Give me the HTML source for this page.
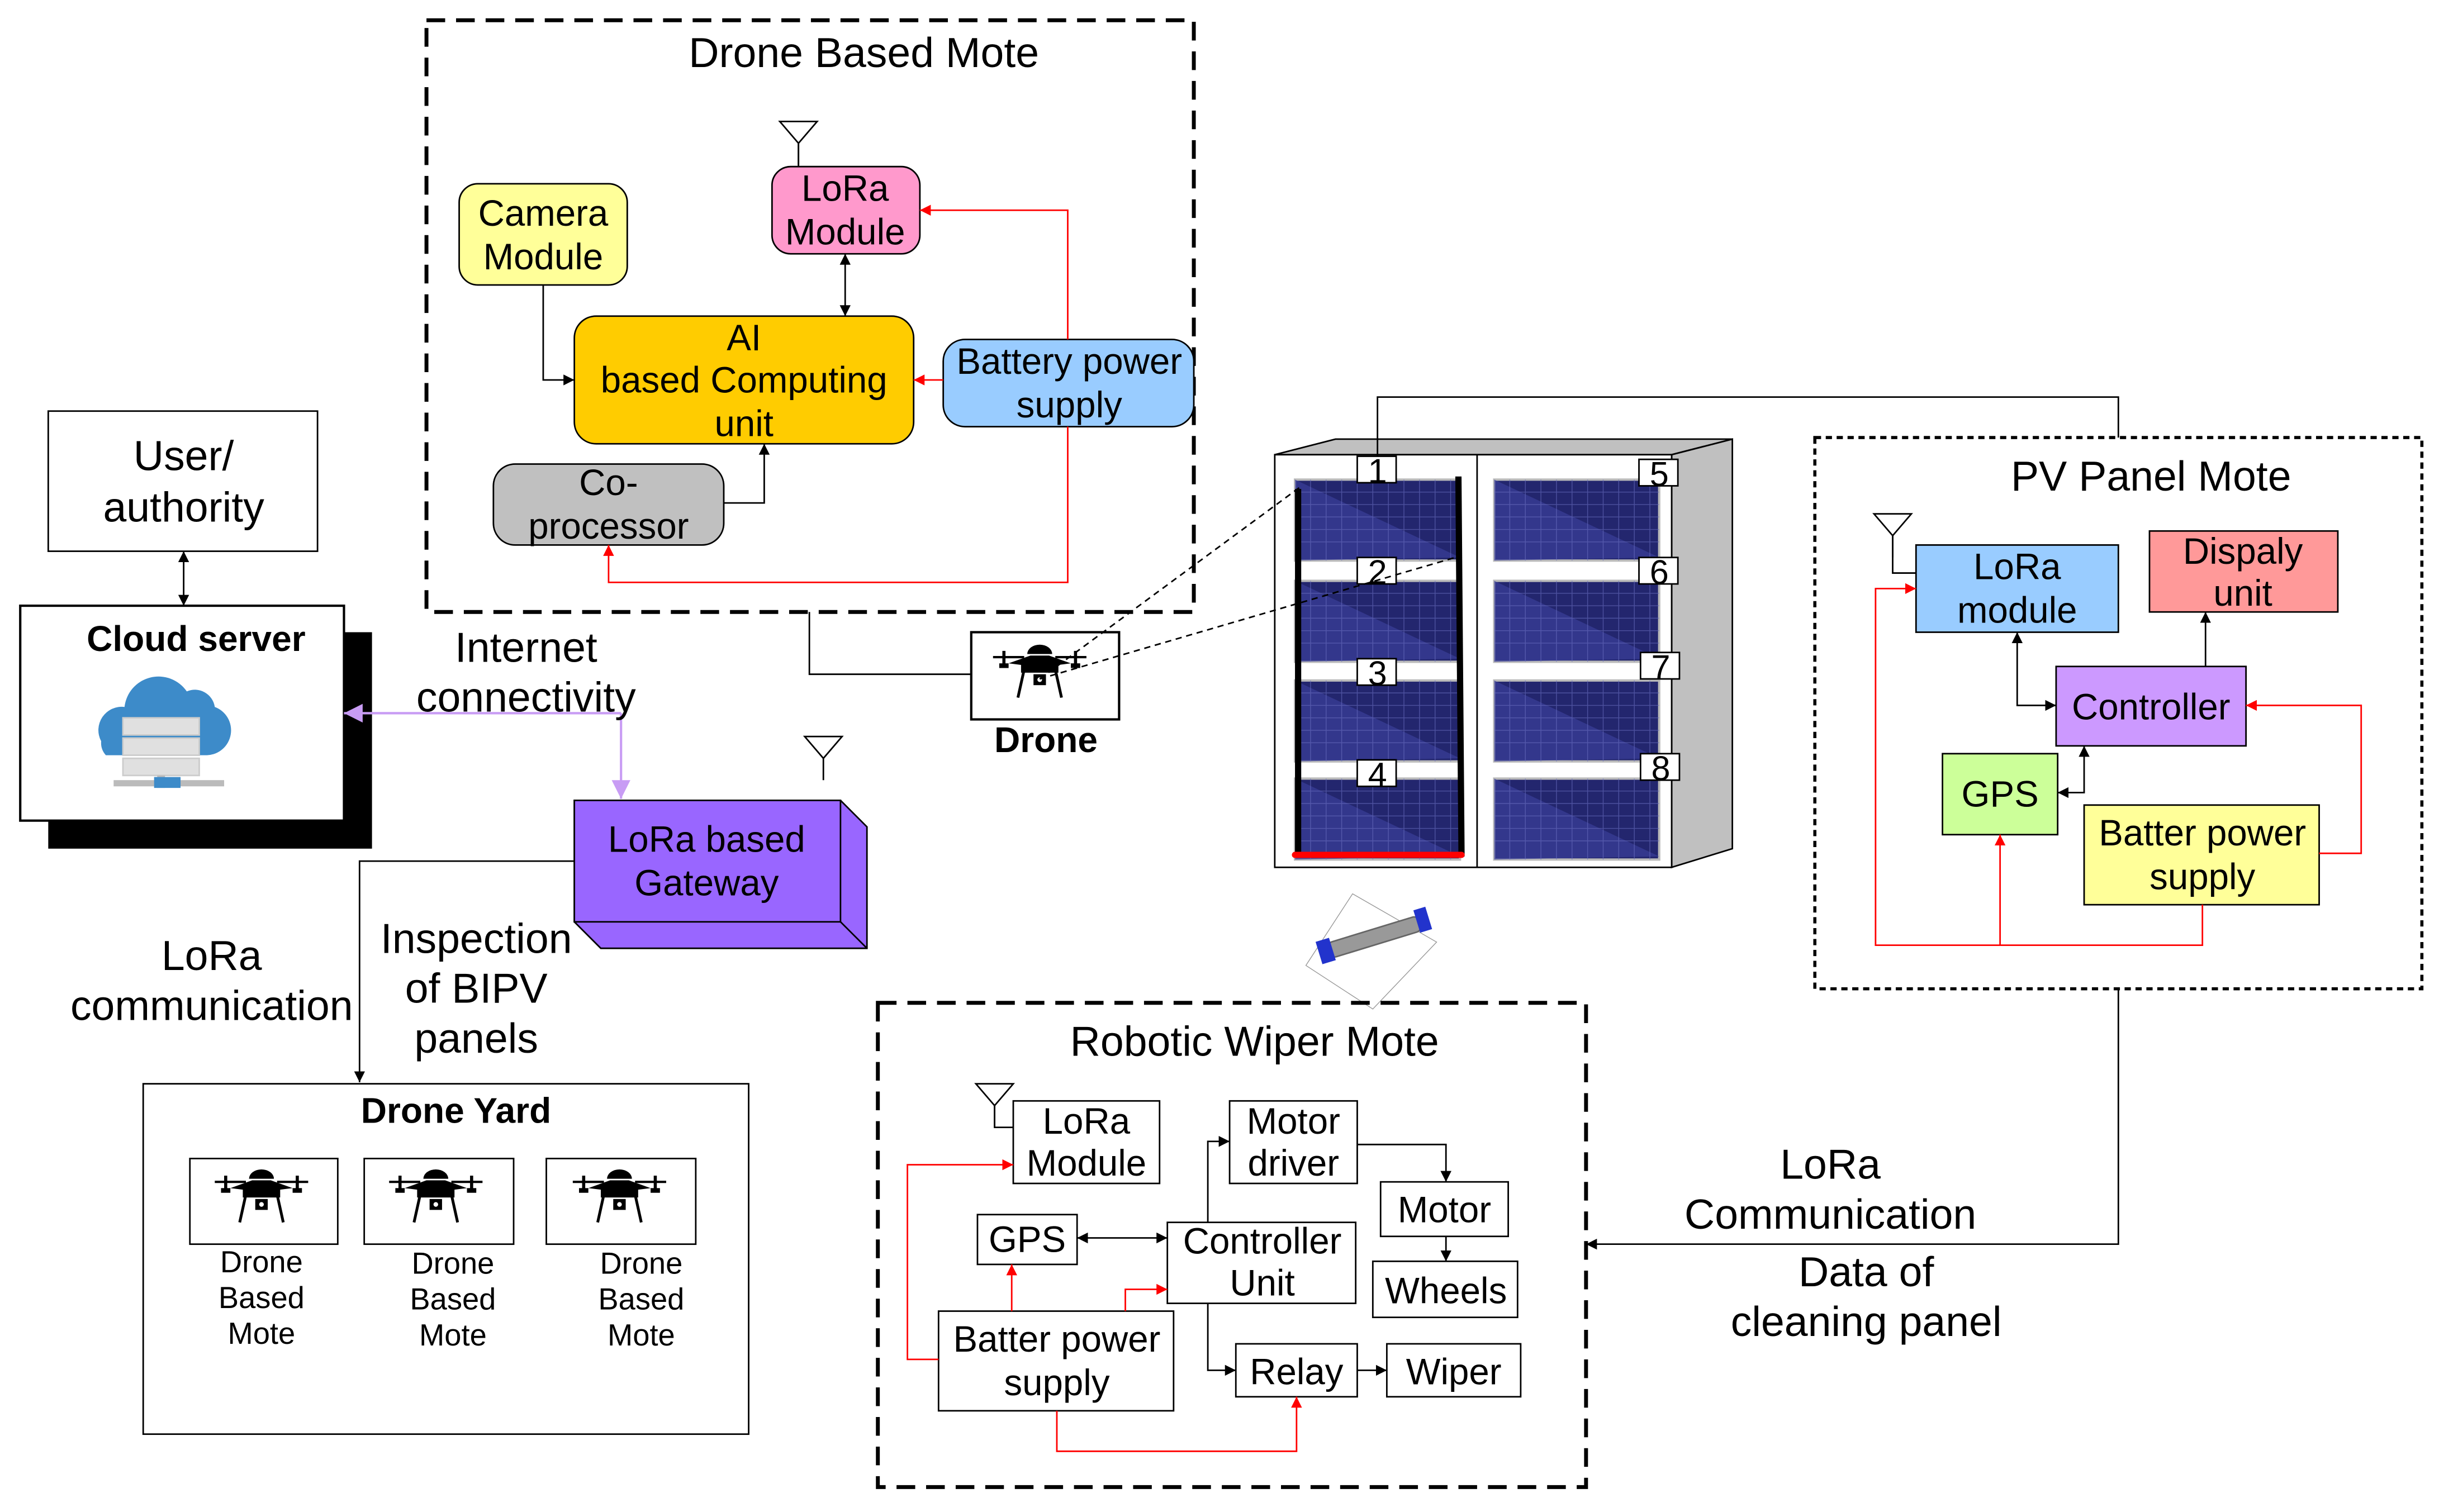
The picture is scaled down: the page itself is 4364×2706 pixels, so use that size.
<!DOCTYPE html>
<html><head><meta charset="utf-8"><style>html,body{margin:0;padding:0;background:#fff}svg{display:block}</style></head><body>
<svg width="4364" height="2706" viewBox="0 0 1567 971" preserveAspectRatio="none" xmlns="http://www.w3.org/2000/svg" font-family="Liberation Sans, Arial, sans-serif">
<defs>
<marker id="ab" viewBox="0 0 10 10" refX="10" refY="5" markerWidth="7" markerHeight="7" orient="auto-start-reverse"><path d="M0,0L10,5L0,10z" fill="#000"/></marker>
<marker id="ar" viewBox="0 0 10 10" refX="10" refY="5" markerWidth="7" markerHeight="7" orient="auto-start-reverse"><path d="M0,0L10,5L0,10z" fill="#f00"/></marker>
<marker id="ap" viewBox="0 0 10 10" refX="10" refY="5" markerWidth="8" markerHeight="8" orient="auto-start-reverse"><path d="M0,0L10,5L0,10z" fill="#c89cf4"/></marker>
<g id="drone">
<path d="M-30,-8 H-10 M10,-8 H30" stroke="#000" stroke-width="1.5"/>
<rect x="-24" y="-12" width="2" height="10" fill="#000"/><rect x="22" y="-12" width="2" height="10" fill="#000"/>
<rect x="-26" y="-4" width="6" height="3" fill="#000"/><rect x="20" y="-4" width="6" height="3" fill="#000"/>
<path d="M-8,-10 A8,6 0 0 1 8,-10 Z" fill="#000"/>
<path d="M-20,-4 L-6,-9 H6 L20,-4 L12,-3 V2 H-12 V-3Z" fill="#000"/>
<path d="M-10,0 L-14,18 M10,0 L14,18" stroke="#000" stroke-width="1.8"/>
<rect x="-4" y="3" width="8" height="7" fill="#000"/><circle cx="0" cy="6.5" r="1.5" fill="#fff"/>
</g>
<g id="ant"><path d="M-12,0 L12,0 L0,14 Z M0,14 V28" fill="none" stroke="#000" stroke-width="1"/></g>
<g id="panel">
<rect x="0" y="0" width="106" height="52" fill="#23266e" stroke="#bbb" stroke-width="1.5"/>
<path d="M0,0 L106,50 L0,52Z" fill="#3a3f99" opacity="0.7"/>
<path d="M10,0V52M20,0V52M30,0V52M40,0V52M50,0V52M60,0V52M70,0V52M80,0V52M90,0V52M100,0V52M0,8H106M0,16H106M0,24H106M0,32H106M0,40H106" stroke="#6a6fc0" stroke-width="0.5" opacity="0.6"/>
</g>
</defs>
<rect width="1567" height="971" fill="#fff"/>
<rect x="274" y="13" width="493" height="380" fill="none" stroke="#000" stroke-width="2.5" stroke-dasharray="12,7"/>
<text x="555" y="43" font-size="27" text-anchor="middle">Drone Based Mote</text>
<use href="#ant" x="513" y="78"/>
<line x1="513" y1="92" x2="513" y2="107" stroke="#000"/>
<rect x="496" y="107" width="95" height="56" rx="12" fill="#ff99cc" stroke="#000"/>
<text font-size="23.5" text-anchor="middle"><tspan x="543" y="129">LoRa</tspan><tspan x="543" y="157">Module</tspan></text>
<rect x="295" y="118" width="108" height="65" rx="12" fill="#ffff99" stroke="#000"/>
<text font-size="23.5" text-anchor="middle"><tspan x="349" y="145">Camera</tspan><tspan x="349" y="173">Module</tspan></text>
<rect x="369" y="203" width="218" height="82" rx="14" fill="#ffcc00" stroke="#000"/>
<text font-size="23.5" text-anchor="middle"><tspan x="478" y="225">AI</tspan><tspan x="478" y="252">based Computing</tspan><tspan x="478" y="280">unit</tspan></text>
<rect x="606" y="218" width="161" height="56" rx="14" fill="#99ccff" stroke="#000"/>
<text font-size="23.5" text-anchor="middle"><tspan x="687" y="240">Battery power</tspan><tspan x="687" y="268">supply</tspan></text>
<rect x="317" y="298" width="148" height="52" rx="14" fill="#c0c0c0" stroke="#000"/>
<text font-size="23.5" text-anchor="middle"><tspan x="391" y="318">Co-</tspan><tspan x="391" y="346">processor</tspan></text>
<g fill="none" stroke="#000" stroke-width="1">
<path d="M349,183 V244 H369" marker-end="url(#ab)"/>
<path d="M543,163 V203" marker-start="url(#ab)" marker-end="url(#ab)"/>
<path d="M465,323 H491 V285" marker-end="url(#ab)"/>
<path d="M520,393 V433 H624"/>
</g>
<g fill="none" stroke="#f00" stroke-width="1">
<path d="M606,244 H587" marker-end="url(#ar)"/>
<path d="M686,218 V135 H591" marker-end="url(#ar)"/>
<path d="M686,274 V374 H391 V350" marker-end="url(#ar)"/>
</g>
<rect x="624" y="406" width="95" height="56" fill="#fff" stroke="#000" stroke-width="1.5"/>
<use href="#drone" x="668" y="430"/>
<text x="672" y="483" font-size="23" font-weight="bold" text-anchor="middle">Drone</text>
<rect x="31" y="264" width="173" height="90" fill="#fff" stroke="#000"/>
<text font-size="27" text-anchor="middle"><tspan x="118" y="302">User/</tspan><tspan x="118" y="335">authority</tspan></text>
<path d="M118,354 V389" stroke="#000" marker-start="url(#ab)" marker-end="url(#ab)"/>
<rect x="31" y="406" width="208" height="139" fill="#000"/>
<rect x="13" y="389" width="208" height="138" fill="#fff" stroke="#000" stroke-width="1.5"/>
<text x="126" y="418" font-size="23" font-weight="bold" text-anchor="middle">Cloud server</text>
<g>
<path d="M85,478 a15,15 0 0 1 15,-22 a22,22 0 0 1 40,-10 a13,13 0 0 1 18,10 a16,16 0 0 1 -5,31 H88 a12,12 0 0 1 -3,-9z" fill="#3d8bc9" transform="translate(-20,-2)"/>
<rect x="79" y="461" width="49" height="11" fill="#e0e0e0" stroke="#ccc"/>
<rect x="79" y="474" width="49" height="11" fill="#e0e0e0" stroke="#ccc"/>
<rect x="79" y="487" width="49" height="11" fill="#e0e0e0" stroke="#ccc"/>
<rect x="101" y="498" width="5" height="8" fill="#bbb"/>
<rect x="73" y="501" width="71" height="4" fill="#bbb"/>
<rect x="99" y="499" width="17" height="7" fill="#3d8bc9"/>
</g>
<g fill="none" stroke="#c89cf4" stroke-width="1.5">
<path d="M399,458 H221" marker-end="url(#ap)"/>
<path d="M399,458 V513" marker-end="url(#ap)"/>
</g>
<text font-size="27" text-anchor="middle"><tspan x="338" y="425">Internet</tspan><tspan x="338" y="457">connectivity</tspan></text>
<use href="#ant" x="529" y="473"/>
<polygon points="369,514 540,514 557,531 557,609 386,609 369,592" fill="#9966ff" stroke="#000"/>
<path d="M540,592 L557,609" stroke="#000" fill="none"/>
<rect x="369" y="514" width="171" height="78" fill="#9966ff" stroke="#000"/>
<text font-size="23.5" text-anchor="middle"><tspan x="454" y="547">LoRa based</tspan><tspan x="454" y="575">Gateway</tspan></text>
<path d="M369,553 H231 V695" fill="none" stroke="#000" marker-end="url(#ab)"/>
<text font-size="27" text-anchor="middle"><tspan x="136" y="623">LoRa</tspan><tspan x="136" y="655">communication</tspan></text>
<text font-size="27" text-anchor="middle"><tspan x="306" y="612">Inspection</tspan><tspan x="306" y="644">of BIPV</tspan><tspan x="306" y="676">panels</tspan></text>
<rect x="92" y="696" width="389" height="225" fill="#fff" stroke="#000"/>
<text x="293" y="721" font-size="23" font-weight="bold" text-anchor="middle">Drone Yard</text>
<rect x="122" y="744" width="95" height="55" fill="#fff" stroke="#000"/><use href="#drone" x="168" y="767"/>
<rect x="234" y="744" width="96" height="55" fill="#fff" stroke="#000"/><use href="#drone" x="280" y="767"/>
<rect x="351" y="744" width="96" height="55" fill="#fff" stroke="#000"/><use href="#drone" x="398" y="767"/>
<g font-size="19.5" text-anchor="middle">
<text><tspan x="168" y="817">Drone</tspan><tspan x="168" y="840">Based</tspan><tspan x="168" y="863">Mote</tspan></text>
<text><tspan x="291" y="818">Drone</tspan><tspan x="291" y="841">Based</tspan><tspan x="291" y="864">Mote</tspan></text>
<text><tspan x="412" y="818">Drone</tspan><tspan x="412" y="841">Based</tspan><tspan x="412" y="864">Mote</tspan></text>
</g>
<polygon points="819,292 858,282 1113,282 1074,292" fill="#c0c0c0" stroke="#000"/>
<polygon points="1074,292 1113,282 1113,545 1074,557" fill="#c0c0c0" stroke="#000"/>
<rect x="819" y="292" width="255" height="265" fill="#fff" stroke="#000"/>
<line x1="949" y1="292" x2="949" y2="557" stroke="#000"/>
<use href="#panel" x="832" y="308"/><use href="#panel" x="832" y="373"/><use href="#panel" x="832" y="437"/><use href="#panel" x="832" y="500"/>
<use href="#panel" x="960" y="308"/><use href="#panel" x="960" y="373"/><use href="#panel" x="960" y="437"/><use href="#panel" x="960" y="500"/>
<line x1="834" y1="314" x2="834" y2="550" stroke="#000" stroke-width="4"/>
<line x1="937" y1="306" x2="939" y2="550" stroke="#000" stroke-width="4"/>
<line x1="832" y1="549" x2="939" y2="549" stroke="#f00" stroke-width="4" stroke-linecap="round"/>
<g font-size="22" text-anchor="middle">
<rect x="872" y="293" width="25" height="17" fill="#fff" stroke="#000"/><text x="885" y="310">1</text>
<rect x="872" y="358" width="25" height="17" fill="#fff" stroke="#000"/><text x="885" y="375">2</text>
<rect x="872" y="423" width="25" height="17" fill="#fff" stroke="#000"/><text x="885" y="440">3</text>
<rect x="872" y="488" width="25" height="17" fill="#fff" stroke="#000"/><text x="885" y="505">4</text>
<rect x="1053" y="295" width="25" height="17" fill="#fff" stroke="#000"/><text x="1066" y="312">5</text>
<rect x="1053" y="358" width="25" height="17" fill="#fff" stroke="#000"/><text x="1066" y="375">6</text>
<rect x="1054" y="419" width="25" height="17" fill="#fff" stroke="#000"/><text x="1067" y="436">7</text>
<rect x="1054" y="484" width="25" height="17" fill="#fff" stroke="#000"/><text x="1067" y="501">8</text>
</g>
<g stroke="#000" stroke-width="1" stroke-dasharray="4,3" fill="none">
<path d="M668,436 L835,313"/><path d="M668,436 L935,358"/>
</g>
<path d="M885,293 V255 H1361 V281" fill="none" stroke="#000"/>
<polygon points="869,574 923,605 882,648 839,620" fill="#fff" stroke="#999" stroke-width="0.5"/>
<g transform="rotate(-17 882 602)">
<rect x="852" y="597" width="62" height="10" rx="4" fill="#999" stroke="#666"/>
<rect x="846" y="594" width="9" height="15" fill="#2233cc"/>
<rect x="912" y="593" width="8" height="15" fill="#2233cc"/>
</g>
<rect x="1166" y="281" width="390" height="354" fill="none" stroke="#000" stroke-width="2" stroke-dasharray="4,3"/>
<text x="1382" y="315" font-size="27" text-anchor="middle">PV Panel Mote</text>
<use href="#ant" x="1216" y="330"/>
<path d="M1216,344 V368 H1231" fill="none" stroke="#000"/>
<rect x="1231" y="350" width="130" height="56" fill="#99ccff" stroke="#000"/>
<text font-size="23.5" text-anchor="middle"><tspan x="1296" y="372">LoRa</tspan><tspan x="1296" y="400">module</tspan></text>
<rect x="1381" y="341" width="121" height="52" fill="#ff9999" stroke="#000"/>
<text font-size="23.5" text-anchor="middle"><tspan x="1441" y="362">Dispaly</tspan><tspan x="1441" y="389">unit</tspan></text>
<rect x="1321" y="428" width="122" height="51" fill="#cc99ff" stroke="#000"/>
<text x="1382" y="462" font-size="23.5" text-anchor="middle">Controller</text>
<rect x="1248" y="484" width="74" height="52" fill="#ccff99" stroke="#000"/>
<text x="1285" y="518" font-size="23.5" text-anchor="middle">GPS</text>
<rect x="1339" y="517" width="151" height="64" fill="#ffff99" stroke="#000"/>
<text font-size="23.5" text-anchor="middle"><tspan x="1415" y="543">Batter power</tspan><tspan x="1415" y="571">supply</tspan></text>
<g fill="none" stroke="#000">
<path d="M1321,453 H1296 V406" marker-start="url(#ab)" marker-end="url(#ab)"/>
<path d="M1417,428 V393" marker-end="url(#ab)"/>
<path d="M1339,479 V509 H1322" marker-start="url(#ab)" marker-end="url(#ab)"/>
<path d="M1361,635 V799 H1019" marker-end="url(#ab)"/>
</g>
<g fill="none" stroke="#f00">
<path d="M1490,548 H1517 V453 H1443" marker-end="url(#ar)"/>
<path d="M1415,581 V607 H1205 V378 H1231" marker-end="url(#ar)"/>
<path d="M1285,607 V536" marker-end="url(#ar)"/>
</g>
<text font-size="27" text-anchor="middle"><tspan x="1176" y="757">LoRa</tspan><tspan x="1176" y="789">Communication</tspan></text>
<text font-size="27" text-anchor="middle"><tspan x="1199" y="826">Data of</tspan><tspan x="1199" y="858">cleaning panel</tspan></text>
<rect x="564" y="644" width="455" height="311" fill="none" stroke="#000" stroke-width="2.5" stroke-dasharray="12,7"/>
<text x="806" y="678" font-size="27" text-anchor="middle">Robotic Wiper Mote</text>
<use href="#ant" x="639" y="696"/>
<path d="M639,710 V724 H651" fill="none" stroke="#000"/>
<g fill="#fff" stroke="#000">
<rect x="651" y="707" width="94" height="53"/>
<rect x="790" y="707" width="82" height="53"/>
<rect x="887" y="759" width="82" height="35"/>
<rect x="882" y="810" width="93" height="36"/>
<rect x="628" y="780" width="64" height="32"/>
<rect x="750" y="785" width="121" height="52"/>
<rect x="603" y="842" width="151" height="64"/>
<rect x="794" y="863" width="78" height="34"/>
<rect x="891" y="863" width="86" height="34"/>
</g>
<g font-size="23.5" text-anchor="middle">
<text><tspan x="698" y="728">LoRa</tspan><tspan x="698" y="755">Module</tspan></text>
<text><tspan x="831" y="728">Motor</tspan><tspan x="831" y="755">driver</tspan></text>
<text x="928" y="785">Motor</text>
<text x="929" y="837">Wheels</text>
<text x="660" y="804">GPS</text>
<text><tspan x="811" y="805">Controller</tspan><tspan x="811" y="832">Unit</tspan></text>
<text><tspan x="679" y="868">Batter power</tspan><tspan x="679" y="896">supply</tspan></text>
<text x="833" y="889">Relay</text>
<text x="934" y="889">Wiper</text>
</g>
<g fill="none" stroke="#000">
<path d="M872,735 H929 V759" marker-end="url(#ab)"/>
<path d="M929,794 V810" marker-end="url(#ab)"/>
<path d="M776,785 V733 H790" marker-end="url(#ab)"/>
<path d="M692,795 H750" marker-start="url(#ab)" marker-end="url(#ab)"/>
<path d="M776,837 V880 H794" marker-end="url(#ab)"/>
<path d="M872,880 H891" marker-end="url(#ab)"/>
</g>
<g fill="none" stroke="#f00">
<path d="M603,873 H583 V748 H651" marker-end="url(#ar)"/>
<path d="M650,842 V812" marker-end="url(#ar)"/>
<path d="M723,842 V828 H750" marker-end="url(#ar)"/>
<path d="M679,906 V932 H833 V897" marker-end="url(#ar)"/>
</g>
</svg>
</body></html>
